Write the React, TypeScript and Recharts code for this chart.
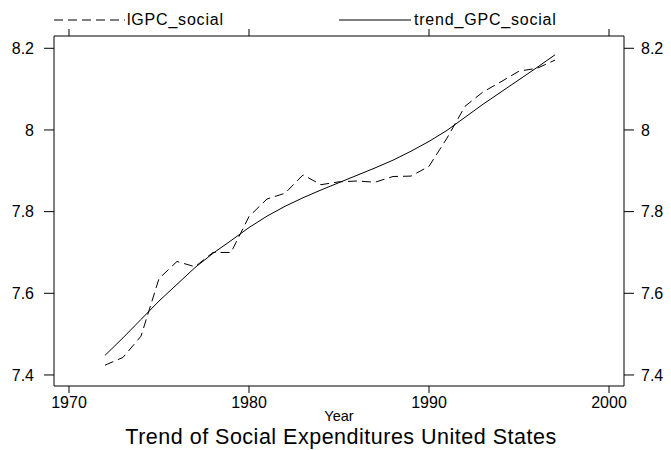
import { LineChart, Line, XAxis, YAxis, Label } from 'recharts'

const years = [
  1972, 1973, 1974, 1975, 1976, 1977, 1978, 1979, 1980, 1981, 1982, 1983, 1984,
  1985, 1986, 1987, 1988, 1989, 1990, 1991, 1992, 1993, 1994, 1995, 1996, 1997,
]
const lgpcSocial = [
  7.424, 7.443, 7.495, 7.636, 7.678, 7.665, 7.7, 7.7, 7.788, 7.831, 7.845, 7.89, 7.866,
  7.873, 7.875, 7.872, 7.886, 7.887, 7.911, 7.98, 8.058, 8.093, 8.118, 8.144, 8.151, 8.171,
]
const trendSocial = [
  7.448, 7.491, 7.536, 7.581, 7.622, 7.663, 7.698, 7.729, 7.761, 7.789, 7.813, 7.834, 7.853,
  7.871, 7.889, 7.907, 7.926, 7.948, 7.972, 7.999, 8.031, 8.063, 8.093, 8.123, 8.153, 8.184,
]
const xTicks = [1970, 1980, 1990, 2000]
const yTicks = [7.4, 7.6, 7.8, 8, 8.2]

const FONT = '"Liberation Sans", Arial, sans-serif'
const INK = '#000'

const rows = years.map((year, i) => ({
  year,
  lGPC_social: lgpcSocial[i],
  trend_GPC_social: trendSocial[i],
}))

const xDomain = [1969.1667, 2000.8333]
const yDomain = [7.373, 8.2301]

const tickStyle = { fontSize: 16, fill: INK, fontFamily: FONT }

function AxisTitles({ viewBox }: any) {
  const cx = viewBox.x + viewBox.width / 2
  return (
    <g fontFamily={FONT} fill={INK}>
      <text x={cx} y={viewBox.y + 34.5} textAnchor='middle' fontSize={14.5}>
        Year
      </text>
      <text x={cx + 2} y={viewBox.y + 58} textAnchor='middle' fontSize={21.5} letterSpacing={0.5}>
        Trend of Social Expenditures United States
      </text>
    </g>
  )
}

export default function App() {
  return (
    <div style={{ position: 'absolute', left: 0, top: 0, background: '#fff' }}>
      <LineChart width={671} height={450} data={rows} margin={{ top: 0, right: 0, bottom: 0, left: 0 }}>
        <XAxis
          xAxisId='bottom'
          dataKey='year'
          type='number'
          domain={xDomain}
          ticks={xTicks}
          allowDataOverflow
          height={64}
          tickSize={7}
          tickMargin={4}
          stroke={INK}
          tick={tickStyle}
        >
          <Label content={AxisTitles} />
        </XAxis>
        <XAxis
          xAxisId='top'
          orientation='top'
          dataKey='year'
          type='number'
          domain={xDomain}
          ticks={xTicks}
          allowDataOverflow
          height={36}
          tickSize={7}
          stroke={INK}
          tickFormatter={() => ''}
        />
        <YAxis
          yAxisId='left'
          type='number'
          domain={yDomain}
          ticks={yTicks}
          allowDataOverflow
          width={54}
          tickSize={10}
          tickMargin={10}
          stroke={INK}
          tick={tickStyle}
        />
        <YAxis
          yAxisId='right'
          orientation='right'
          type='number'
          domain={yDomain}
          ticks={yTicks}
          allowDataOverflow
          width={47}
          tickSize={10}
          tickMargin={7}
          stroke={INK}
          tick={tickStyle}
        />
        <Line
          xAxisId='bottom'
          yAxisId='left'
          dataKey='lGPC_social'
          type='linear'
          stroke={INK}
          strokeWidth={1}
          strokeDasharray='9 5'
          dot={false}
          isAnimationActive={false}
        />
        <Line
          xAxisId='bottom'
          yAxisId='left'
          dataKey='trend_GPC_social'
          type='linear'
          stroke={INK}
          strokeWidth={1}
          dot={false}
          isAnimationActive={false}
        />
        <g fontFamily={FONT} fontSize={16} fill={INK} letterSpacing={0.8}>
          <line x1={54} x2={125} y1={20} y2={20} stroke={INK} strokeDasharray='9 5' />
          <text x={127} y={25}>lGPC_social</text>
          <line x1={339} x2={411} y1={20} y2={20} stroke={INK} />
          <text x={414} y={25}>trend_GPC_social</text>
        </g>
      </LineChart>
    </div>
  )
}
